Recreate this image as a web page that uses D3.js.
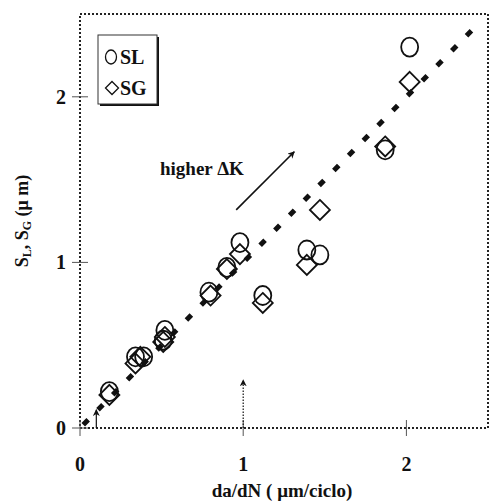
<!DOCTYPE html>
<html><head><meta charset="utf-8">
<script src="https://cdn.jsdelivr.net/npm/d3@7"></script>
<style>body{margin:0;background:#fff}svg{display:block}text{font-family:"Liberation Serif","Times New Roman",serif;font-weight:bold;fill:#111}</style>
</head><body><svg id="c" width="490" height="502"></svg>
<script>
const xTicks = [0, 1, 2];
const yTicks = [0, 1, 2];
const slX = [0.18, 0.34, 0.39, 0.51, 0.52, 0.79, 0.90, 0.98, 1.12, 1.39, 1.47, 1.87, 2.02];
const slY = [0.22, 0.43, 0.43, 0.53, 0.59, 0.82, 0.97, 1.12, 0.80, 1.075, 1.045, 1.68, 2.30];
const sgX = [0.18, 0.34, 0.37, 0.51, 0.52, 0.80, 0.90, 0.98, 1.12, 1.39, 1.47, 1.87, 2.02];
const sgY = [0.20, 0.39, 0.43, 0.52, 0.55, 0.80, 0.96, 1.05, 0.755, 0.985, 1.317, 1.70, 2.09];
const fitX = [0.02, 2.45];
const legendLabels = ["SL", "SG"];

const svg = d3.select("#c");
const L = 80, R = 488, T = 14, B = 428;
const x = d3.scaleLinear().domain([0, 2.5]).range([L, R]);
const y = d3.scaleLinear().domain([0, 2.5]).range([B, T]);

svg.append("defs").append("marker").attr("id","ah").attr("viewBox","0 0 10 10")
  .attr("refX",9).attr("refY",5).attr("markerWidth",7).attr("markerHeight",7)
  .attr("orient","auto-start-reverse").attr("markerUnits","userSpaceOnUse")
  .append("path").attr("d","M0,0 L10,5 L0,10 L3,5 Z").attr("fill","#111");

// frame (dotted)
svg.append("rect").attr("x",L).attr("y",T).attr("width",R-L).attr("height",B-T)
  .attr("fill","none").attr("stroke","#222").attr("stroke-width",2).attr("stroke-dasharray","2,2");

// ticks crossing axes
const tk = svg.append("g").attr("stroke","#555").attr("stroke-width",1);
xTicks.forEach(v=>{ tk.append("line").attr("x1",x(v)).attr("x2",x(v)).attr("y1",B-8).attr("y2",B+8); });
yTicks.forEach(v=>{ tk.append("line").attr("y1",y(v)).attr("y2",y(v)).attr("x1",L-8).attr("x2",L+8); });

svg.append("g").selectAll("text").data(xTicks).join("text")
  .attr("x",d=>x(d)).attr("y",471).attr("text-anchor","middle").attr("font-size",20).text(d=>d);
svg.append("g").selectAll("text").data(yTicks).join("text")
  .attr("x",66).attr("y",d=>y(d)+7).attr("text-anchor","end").attr("font-size",20).text(d=>d);

// fit line y=x
svg.append("line").attr("x1",x(fitX[0])).attr("y1",y(fitX[0])).attr("x2",x(fitX[1])).attr("y2",y(fitX[1]))
  .attr("stroke","#111").attr("stroke-width",5).attr("stroke-dasharray","7,14");

// small arrows
svg.append("line").attr("x1",x(0.1)).attr("y1",y(0)).attr("x2",x(0.1)).attr("y2",y(0.11))
  .attr("stroke","#111").attr("stroke-width",1.2).attr("marker-end","url(#ah)");
svg.append("line").attr("x1",x(1)).attr("y1",y(0)).attr("x2",x(1)).attr("y2",y(0.29))
  .attr("stroke","#111").attr("stroke-width",1.2).attr("stroke-dasharray","1.5,1.5").attr("marker-end","url(#ah)");

// points
const diamond = (cx,cy,s)=>`M${cx},${cy-s}L${cx+s},${cy}L${cx},${cy+s}L${cx-s},${cy}Z`;
svg.append("g").selectAll("path").data(sgX).join("path")
  .attr("d",(d,i)=>diamond(x(d),y(sgY[i]),10)).attr("fill","none").attr("stroke","#111").attr("stroke-width",1.8);
svg.append("g").selectAll("ellipse").data(slX).join("ellipse")
  .attr("cx",d=>x(d)).attr("cy",(d,i)=>y(slY[i])).attr("rx",8.5).attr("ry",9.5)
  .attr("fill","none").attr("stroke","#111").attr("stroke-width",1.8);

// higher ΔK arrow
svg.append("line").attr("x1",x(0.957)).attr("y1",y(1.317)).attr("x2",x(1.313)).attr("y2",y(1.668))
  .attr("stroke","#111").attr("stroke-width",1.6).attr("marker-end","url(#ah)");
svg.append("text").attr("x",160).attr("y",175).attr("font-size",19).text("higher \u0394K");

// legend
const lg = svg.append("g");
lg.append("rect").attr("x",100).attr("y",37).attr("width",59).attr("height",69).attr("fill","#111");
lg.append("rect").attr("x",98).attr("y",35).attr("width",59).attr("height",69).attr("fill","#fff").attr("stroke","#333").attr("stroke-width",1);
lg.append("ellipse").attr("cx",111).attr("cy",57).attr("rx",5.5).attr("ry",7).attr("fill","none").attr("stroke","#111").attr("stroke-width",1.3);
lg.append("path").attr("d",diamond(112,88,6.5)).attr("fill","none").attr("stroke","#111").attr("stroke-width",1.3);
lg.append("text").attr("x",120).attr("y",64).attr("font-size",20).text(legendLabels[0]);
lg.append("text").attr("x",120).attr("y",95).attr("font-size",20).text(legendLabels[1]);

// axis titles
svg.append("text").attr("x",(L+R)/2 - 2).attr("y",497).attr("text-anchor","middle").attr("font-size",19)
  .text("da/dN ( \u03bcm/ciclo)");
const yt = svg.append("text").attr("transform","translate(28,221) rotate(-90)").attr("text-anchor","middle").attr("font-size",18);
yt.append("tspan").text("S");
yt.append("tspan").attr("font-size",12).attr("dy",3).text("L");
yt.append("tspan").attr("dy",-3).text(", S");
yt.append("tspan").attr("font-size",12).attr("dy",3).text("G");
yt.append("tspan").attr("dy",-3).text(" (\u03bc m)");
</script></body></html>
